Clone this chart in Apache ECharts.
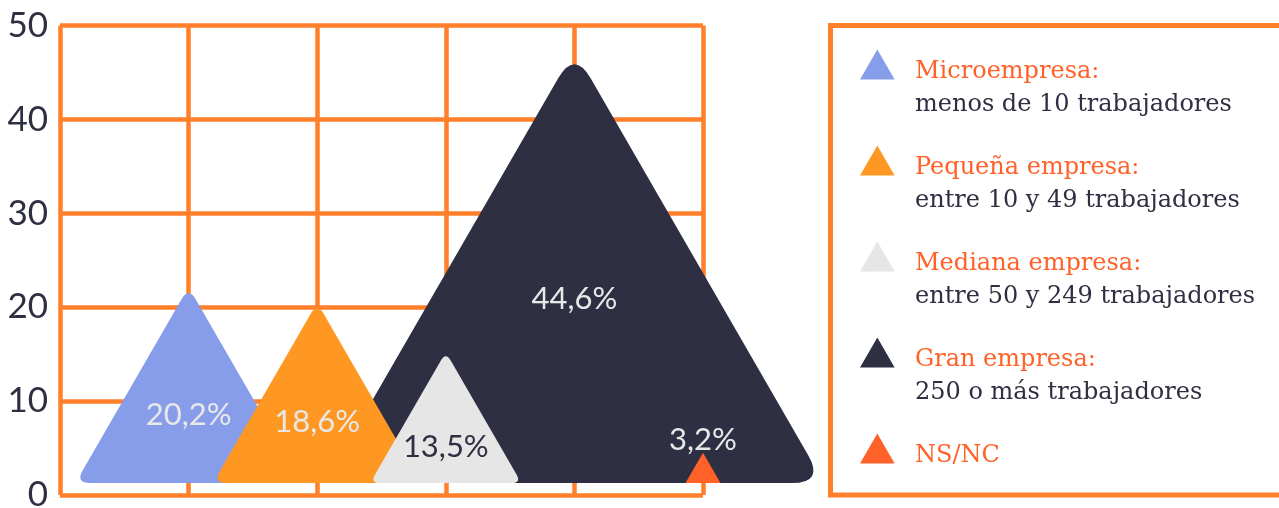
<!DOCTYPE html>
<html>
<head>
<meta charset="utf-8">
<script src="https://cdn.jsdelivr.net/npm/echarts@6/dist/echarts.min.js"></script>
<style>
  html, body { margin: 0; padding: 0; background: #ffffff; overflow: hidden; }
  #chart { width: 1279px; height: 508px; }
</style>
</head>
<body>
<div id="chart"></div>
<script>
// ---- data ----
const categories = ['', 'Microempresa', 'Pequeña empresa', 'Mediana empresa', 'Gran empresa', 'NS/NC'];
const values = [20.2, 18.6, 13.5, 44.6, 3.2];
const legendTitles = ['Microempresa:', 'Pequeña empresa:', 'Mediana empresa:', 'Gran empresa:', 'NS/NC'];
const legendSubtitles = ['menos de 10 trabajadores', 'entre 10 y 49 trabajadores', 'entre 50 y 249 trabajadores', '250 o más trabajadores', ''];
const yTicks = [0, 10, 20, 30, 40, 50];

// ---- styles ----
const colors = ['#879dea', '#ff9822', '#e6e6e6', '#2e2f42', '#ff6128'];
const labelColors = ['#e8e8e8', '#e8e8e8', '#2e2f42', '#e8e8e8', '#e8e8e8'];
const labelFrac = [0.36, 0.35, 0.285, 0.44, null]; // null = above apex
const roundFrac = [0.075, 0.075, 0.075, 0.075, 0.02];
const drawOrder = [3, 0, 1, 2, 4];
const orange = '#ff7f2a';
const dark = '#2e2f42';
const LIFT = 12;

function fmt(v) { return v.toFixed(1).replace('.', ',') + '%'; }

function roundedTriangle(cx, baseY, hv, rf) {
  const hs = hv / (1 - 0.433 * rf);
  const d = rf * hs;
  const half = hs / Math.sqrt(3);
  const V = [[cx, baseY - hs], [cx + half, baseY], [cx - half, baseY]];
  const edge = 2 * half;
  let path = '';
  for (let i = 0; i < 3; i++) {
    const P = V[(i + 2) % 3], C = V[i], N = V[(i + 1) % 3];
    const a = [C[0] + (P[0] - C[0]) * d / edge, C[1] + (P[1] - C[1]) * d / edge];
    const b = [C[0] + (N[0] - C[0]) * d / edge, C[1] + (N[1] - C[1]) * d / edge];
    path += (i === 0 ? 'M' : 'L') + a[0] + ',' + a[1] + 'Q' + C[0] + ',' + C[1] + ',' + b[0] + ',' + b[1];
  }
  return path + 'Z';
}

function makeRender(idx) {
  return function (params, api) {
    const x = api.value(0), v = api.value(1);
    const p0 = api.coord([x, 0]);
    const p1 = api.coord([x, v]);
    const baseY = p0[1] - LIFT;
    const hv = p0[1] - p1[1];
    const cx = p0[0];
    const children = [{
      type: 'path',
      shape: { pathData: roundedTriangle(cx, baseY, hv, roundFrac[idx]) },
      style: { fill: api.visual('color') }
    }];
    const ly = labelFrac[idx] == null ? baseY - hv - 13 : baseY - labelFrac[idx] * hv;
    children.push({
      type: 'text',
      style: {
        text: fmt(v), x: cx, y: ly,
        fill: labelColors[idx],
        fontFamily: 'Lato', fontSize: 31,
        align: 'center', verticalAlign: 'middle'
      }
    });
    return { type: 'group', children: children };
  };
}

const series = drawOrder.map(function (i) {
  return {
    type: 'custom',
    name: categories[i + 1],
    renderItem: makeRender(i),
    itemStyle: { color: colors[i] },
    clip: false,
    data: [[i + 1, values[i]]]
  };
});

const chart = echarts.init(document.getElementById('chart'), null, { renderer: 'canvas', width: 1279, height: 508 });
chart.setOption({
  animation: false,
  backgroundColor: '#ffffff',
  grid: { left: 60, top: 25.5, width: 643, height: 469.5, containLabel: false, outerBoundsMode: 'none' },
  xAxis: {
    type: 'category',
    data: categories,
    boundaryGap: false,
    axisLine: { show: false },
    axisTick: { show: false },
    axisLabel: { show: false },
    splitLine: { show: true, interval: 0, lineStyle: { color: orange, width: 4.5 } }
  },
  yAxis: {
    type: 'value',
    min: 0, max: 50, interval: 10,
    axisLine: { show: false },
    axisTick: { show: false },
    axisLabel: {
      color: dark, fontFamily: 'Lato', fontSize: 35, margin: 12,
      formatter: function (v) { return yTicks.indexOf(v) >= 0 ? String(v) : ''; }
    },
    splitLine: { lineStyle: { color: orange, width: 4.5 } }
  },
  legend: {
    orient: 'vertical',
    left: 860,
    top: 26.5,
    padding: 0,
    itemGap: 6,
    itemWidth: 65.4,
    itemHeight: 30,
    icon: 'path://M0,86.6L50,0L100,86.6Z',
    selectedMode: false,
    data: [1, 2, 3, 4, 5].map(function (k) { return categories[k]; }),
    formatter: function (name) {
      const i = categories.indexOf(name) - 1;
      return '{b| }\n{t|' + legendTitles[i] + '}\n{s|' + (legendSubtitles[i] || ' ') + '}';
    },
    textStyle: {
      rich: {
        b: { fontSize: 10, lineHeight: 47 },
        t: { color: '#ff6128', fontFamily: 'DejaVu Serif', fontSize: 24, lineHeight: 33 },
        s: { color: dark, fontFamily: 'DejaVu Serif', fontSize: 24, lineHeight: 33 }
      }
    }
  },
  graphic: [{
    type: 'rect',
    shape: { x: 830.5, y: 25.5, width: 520, height: 469.5 },
    style: { fill: 'none', stroke: orange, lineWidth: 5 },
    z: 0
  }],
  series: series
});
</script>
</body>
</html>
